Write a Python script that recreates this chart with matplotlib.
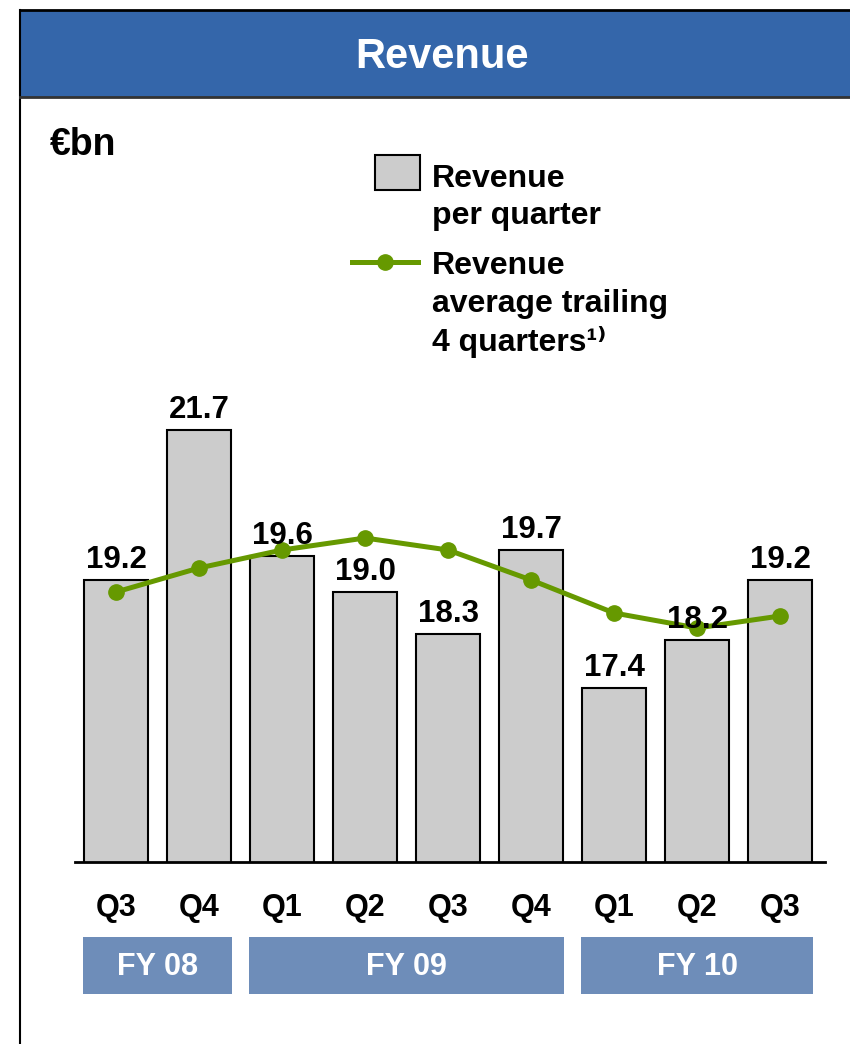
import matplotlib
matplotlib.use("Agg")
import matplotlib.pyplot as plt
import matplotlib.transforms as mtransforms
from matplotlib.patches import Rectangle
from matplotlib.lines import Line2D

plt.rcParams["font.family"] = ["Liberation Sans", "DejaVu Sans"]
plt.rcParams["font.weight"] = "bold"

# data
quarters = ["Q3", "Q4", "Q1", "Q2", "Q3", "Q4", "Q1", "Q2", "Q3"]
revenue = [19.2, 21.7, 19.6, 19.0, 18.3, 19.7, 17.4, 18.2, 19.2]
avg_trailing = [19.0, 19.4, 19.7, 19.9, 19.7, 19.2, 18.65, 18.4, 18.6]
fiscal_years = ["FY 08", "FY 09", "FY 10"]
fy_first = [0, 2, 6]
fy_last = [1, 5, 8]

W, H = 850, 1044
BLUE = "#3466AA"
FY_BLUE = "#6E8DB9"
GREEN = "#669900"
GREY = "#CCCCCC"

fig = plt.figure(figsize=(W / 100, H / 100), dpi=100)


def fx(x):
    return x / W


def fy(y):
    return 1 - y / H


# header + frame
fig.patches.append(Rectangle((fx(20), fy(97)), fx(830), 87 / H, transform=fig.transFigure,
                             facecolor=BLUE, edgecolor="none", zorder=0))
fig.lines.append(Line2D([fx(20), fx(850)], [fy(10), fy(10)], transform=fig.transFigure, color="black", lw=2))
fig.lines.append(Line2D([fx(20), fx(20)], [fy(10), fy(1044)], transform=fig.transFigure, color="black", lw=1.5))
fig.lines.append(Line2D([fx(20), fx(850)], [fy(97), fy(97)], transform=fig.transFigure, color="#333333", lw=2))
fig.text(fx(442), fy(57), "Revenue", color="white", fontsize=30, ha="center", va="center")
fig.text(fx(50), fy(145), "€bn", fontsize=27, ha="left", va="center")

# main axes
ax = fig.add_axes([fx(75), 1 - 862 / H, 750 / W, 462 / H])
x = list(range(len(revenue)))
ax.bar(x, revenue, width=0.77, color=GREY, edgecolor="black", linewidth=1.5, zorder=2)
ax.plot(x, avg_trailing, color=GREEN, lw=3.6, marker="o", markersize=11, zorder=3)
for xi, v in zip(x, revenue):
    ax.annotate(f"{v:.1f}", (xi, v), xytext=(0, 3.5), textcoords="offset points",
                ha="center", va="bottom", fontsize=22.5)

ax.set_xlim(-0.494, 8.54)
ax.set_ylim(14.5, 14.5 + 462 / 60)
ax.set_xticks(x, quarters, fontsize=22)
ax.tick_params(axis="x", length=0, pad=22.5)
ax.set_yticks([])
for s in ["top", "left", "right"]:
    ax.spines[s].set_visible(False)
ax.spines["bottom"].set_linewidth(2)
ax.patch.set_alpha(0)

# fiscal year boxes
trans = mtransforms.blended_transform_factory(ax.transData, fig.transFigure)
for label, a, b in zip(fiscal_years, fy_first, fy_last):
    ax.add_patch(Rectangle((a - 0.4, fy(994)), (b - a) + 0.8, 57 / H, transform=trans,
                           facecolor=FY_BLUE, edgecolor="none", clip_on=False))
    ax.text((a + b) / 2, fy(967), label, transform=trans, color="white", fontsize=22,
            ha="center", va="center", clip_on=False)

# legend
fig.patches.append(Rectangle((fx(375), fy(190)), 45 / W, 35 / H, transform=fig.transFigure,
                             facecolor=GREY, edgecolor="black", lw=1.5))
fig.lines.append(Line2D([fx(352), fx(418)], [fy(262), fy(262)], transform=fig.transFigure,
                        color=GREEN, lw=3.6))
fig.lines.append(Line2D([fx(385)], [fy(262)], transform=fig.transFigure, color=GREEN,
                        marker="o", markersize=11))
legend_lines = [("Revenue", 179), ("per quarter", 216), ("Revenue", 266),
                ("average trailing", 304), ("4 quarters¹⁾", 342)]
for txt, yy in legend_lines:
    fig.text(fx(432), fy(yy), txt, fontsize=23, ha="left", va="center")

fig.savefig("out.png", dpi=100)
